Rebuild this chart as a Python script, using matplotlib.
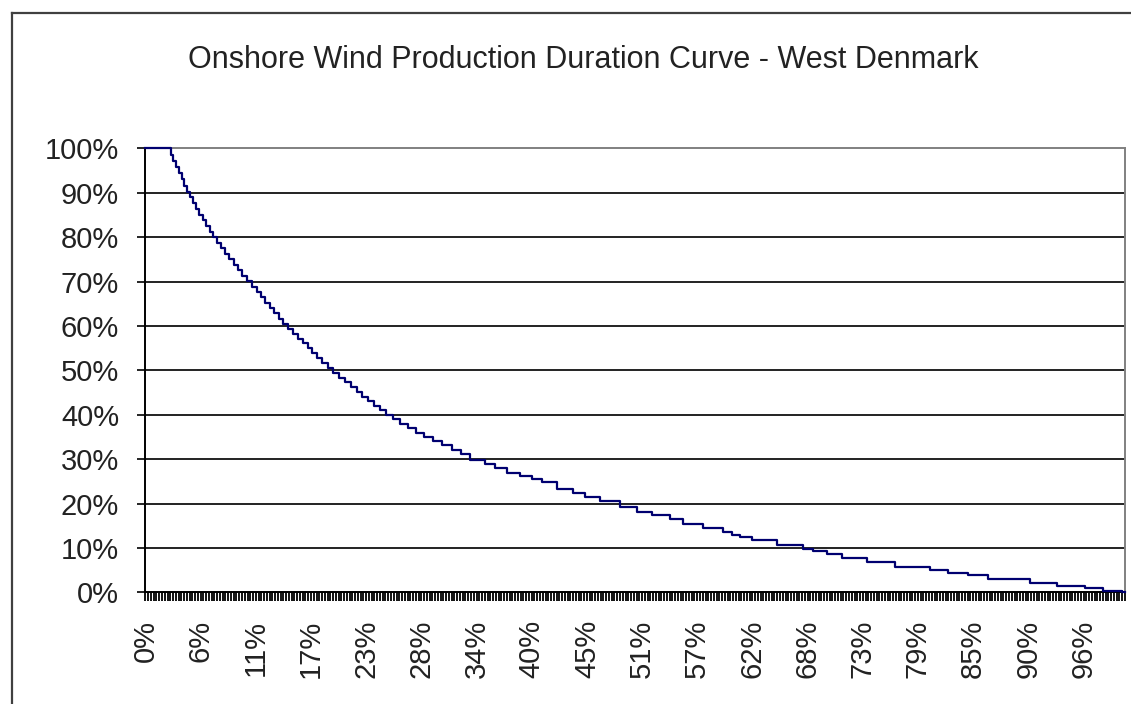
import numpy as np
import matplotlib
matplotlib.use('Agg')
import matplotlib.pyplot as plt
from matplotlib.lines import Line2D

plt.rcParams['font.family'] = ['Liberation Sans', 'DejaVu Sans']

# 曲线数据: 每个台阶的起点 (时间百分比) 和出力水平 (%)
dur_x = [0, 2.57, 2.85, 3.10, 3.40, 3.70, 3.98, 4.27, 4.54, 4.85, 5.20, 5.50, 5.85,
         6.20, 6.55, 6.90, 7.30, 7.70, 8.15, 8.55, 9.00, 9.45, 9.90, 10.40, 10.90,
         11.35, 11.80, 12.25, 12.70, 13.15, 13.60, 14.05, 14.55, 15.05, 15.55, 16.05,
         16.55, 17.05, 17.55, 18.05, 18.60, 19.15, 19.75, 20.35, 20.95, 21.55, 22.15,
         22.75, 23.35, 23.95, 24.55, 25.25, 26.00, 26.80, 27.60, 28.45, 29.35, 30.30,
         31.25, 32.20, 33.10, 34.67, 35.69, 36.88, 38.24, 39.43, 40.45, 41.98, 43.68,
         44.87, 46.40, 48.44, 50.15, 51.68, 53.55, 54.88, 56.92, 58.96, 59.88, 60.70,
         61.92, 64.47, 67.12, 68.14, 69.57, 71.11, 73.63, 76.52, 80.09, 81.93, 83.97,
         86.01, 90.30, 93.03, 95.92, 97.76, 99.67, 100]
dur_y = [100, 98.6, 97.2, 95.8, 94.5, 93.1, 91.6, 90.3, 89.0, 87.7, 86.4, 85.1, 83.9,
         82.6, 81.3, 80.0, 78.8, 77.6, 76.3, 75.1, 73.8, 72.6, 71.3, 70.1, 68.9,
         67.7, 66.5, 65.3, 64.1, 62.9, 61.7, 60.5, 59.4, 58.3, 57.2, 56.1,
         55.0, 53.9, 52.8, 51.7, 50.6, 49.5, 48.4, 47.3, 46.2, 45.2, 44.1,
         43.1, 42.0, 41.0, 40.0, 39.0, 38.0, 37.0, 36.0, 35.1, 34.1, 33.2,
         32.2, 31.2, 29.9, 29.0, 28.0, 26.9, 26.3, 25.5, 24.8, 23.3, 22.4,
         21.5, 20.5, 19.2, 18.2, 17.5, 16.6, 15.5, 14.5, 13.6, 13.0, 12.4,
         11.8, 10.7, 9.7, 9.4, 8.6, 7.8, 6.9, 5.8, 5.1, 4.3, 3.9,
         3.0, 2.1, 1.5, 1.0, 0.4, 0.0, 0.0]

x_labels = ['0%', '6%', '11%', '17%', '23%', '28%', '34%', '40%', '45%', '51%',
            '57%', '62%', '68%', '73%', '79%', '85%', '90%', '96%']
y_ticks = [0, 10, 20, 30, 40, 50, 60, 70, 80, 90, 100]
y_labels = [f'{v}%' for v in y_ticks]

title = 'Onshore Wind Production Duration Curve - West Denmark'

fig = plt.figure(figsize=(11.31, 7.04), dpi=100)
ax = fig.add_axes([0.1286, 0.1584, 0.8660, 0.6307])

ax.step(dur_x, dur_y, where='post', color='#000070', lw=1.6, zorder=4,
        clip_on=False)

ax.set_xlim(0, 100)
ax.set_ylim(0, 100)

# 网格线 (10% - 90%)
for v in y_ticks[1:-1]:
    ax.axhline(v, color='#111111', lw=1.3, zorder=1)

ax.set_yticks(y_ticks)
ax.set_yticklabels(y_labels)
label_pos = np.arange(len(x_labels)) * 100 / 17.75
ax.set_xticks(label_pos)
ax.set_xticklabels(x_labels, rotation=90)
ax.set_xticks(np.arange(0, 100.01, 100 / 355), minor=True)

ax.tick_params(axis='y', direction='out', length=6, width=1.2, pad=13,
               labelsize=21, labelcolor='#222222')
ax.tick_params(axis='x', which='both', direction='out', length=6.5, width=1.3,
               pad=13, labelsize=21, labelcolor='#222222')

for s in ['left', 'bottom']:
    ax.spines[s].set_color('black')
    ax.spines[s].set_linewidth(1.4)
for s in ['top', 'right']:
    ax.spines[s].set_color('#808080')
    ax.spines[s].set_linewidth(1.4)

fig.text(0.516, 0.915, title, ha='center', va='center', fontsize=22,
         color='#222222')

# 外框
fig.add_artist(Line2D([12 / 1131, 12 / 1131], [0, 1 - 13 / 704],
                      transform=fig.transFigure, color='#404040', lw=1.6))
fig.add_artist(Line2D([12 / 1131, 1], [1 - 13 / 704, 1 - 13 / 704],
                      transform=fig.transFigure, color='#404040', lw=1.6))

plt.savefig('out.png', dpi=100)
